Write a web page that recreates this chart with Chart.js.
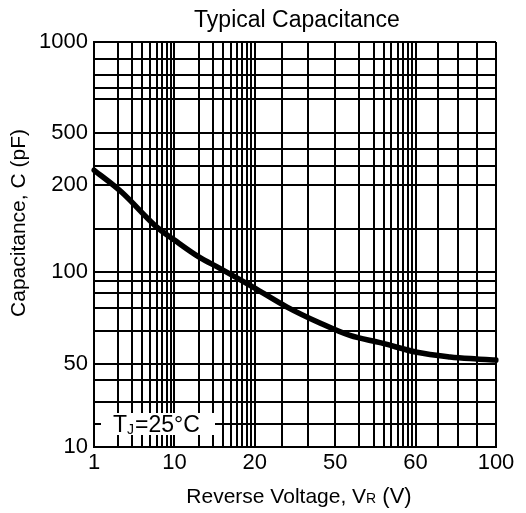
<!DOCTYPE html>
<html>
<head>
<meta charset="utf-8">
<script src="https://cdn.jsdelivr.net/npm/chart.js@4/dist/chart.umd.min.js"></script>
<style>
  html, body { margin: 0; padding: 0; background: #fff; }
  #wrap { width: 526px; height: 513px; }
</style>
</head>
<body>
<div id="wrap"><canvas id="c" width="526" height="513"></canvas></div>
<script>
// ---------- texts ----------
const chartTitle = 'Typical Capacitance';
const xTitleParts = ['Reverse Voltage, V', 'R', ' (V)'];
const yTitle = 'Capacitance, C (pF)';
const noteParts = ['T', 'J', '=25°C'];

// ---------- tick labels / values ----------
const xTickValues = [1, 10, 20, 50, 60, 100];
const xTickLabels = ['1', '10', '20', '50', '60', '100'];
const yTickValues = [10, 50, 100, 200, 500, 1000];
const yTickLabels = ['10', '50', '100', '200', '500', '1000'];

// ---------- series ----------
const voltage     = [1,   2.2, 5.7, 10,  12.3, 14.8, 19.7, 28.9, 42,   51.7, 55.5, 60.5, 74.7, 88.6, 100];
const capacitance = [260, 189, 145, 129, 113,  103,  89.3, 76.8, 68.1, 62.0, 58.6, 54.6, 52.7, 51.9, 51.5];

// ---------- axis geometry (fractions of the axis length) ----------
const xTickPos = [0, 0.2, 0.4, 0.6, 0.8, 1];
const yTickPos = [0, 0.205, 0.432, 0.647, 0.775, 1];
const decade = [2, 3, 4, 5, 6, 7, 8, 9].map(k => Math.log10(k));
const xMinorPos = [].concat(
  decade.map(d => 0.0 + 0.2 * d),
  decade.map(d => 0.2 + 0.2 * d),
  [1 / 3, 2 / 3].map(d => 0.4 + 0.2 * d),
  decade.map(d => 0.6 + 0.2 * d),
  [0.284, 0.53, 0.765].map(d => 0.8 + 0.2 * d)
);
const yMinorPos = [0.057, 0.111, 0.165, 0.286, 0.343, 0.380, 0.410, 0.538, 0.694, 0.736, 0.859, 0.886, 0.919, 0.958];

const axisDefs = {
  x: { values: xTickValues, pos: xTickPos, labels: xTickLabels, minor: xMinorPos },
  y: { values: yTickValues, pos: yTickPos, labels: yTickLabels, minor: yMinorPos }
};

// ---------- custom piecewise-log scale ----------
class PiecewiseScale extends Chart.Scale {
  def() { return axisDefs[this.id]; }
  determineDataLimits() {
    const v = this.def().values;
    this.min = v[0];
    this.max = v[v.length - 1];
  }
  decimalForValue(val) {
    const { values: b, pos: p } = this.def();
    if (val <= b[0]) return p[0];
    for (let i = 0; i < b.length - 1; i++) {
      if (val <= b[i + 1]) {
        const t = Math.log(val / b[i]) / Math.log(b[i + 1] / b[i]);
        return p[i] + t * (p[i + 1] - p[i]);
      }
    }
    return p[p.length - 1];
  }
  valueForDecimal(d) {
    const { values: b, pos: p } = this.def();
    if (d <= p[0]) return b[0];
    for (let i = 0; i < p.length - 1; i++) {
      if (d <= p[i + 1]) {
        const t = (d - p[i]) / (p[i + 1] - p[i]);
        return b[i] * Math.pow(b[i + 1] / b[i], t);
      }
    }
    return b[b.length - 1];
  }
  buildTicks() {
    const d = this.def();
    const ticks = d.minor.map(p => ({ value: this.valueForDecimal(p), text: '' }));
    d.values.forEach((v, i) => ticks.push({ value: v, text: d.labels[i] }));
    ticks.sort((a, b) => a.value - b.value);
    return ticks;
  }
  generateTickLabels(ticks) { ticks.forEach(t => { t.label = t.text; }); }
  getLabelForValue(v) { return String(v); }
  getPixelForValue(v) { return this.getPixelForDecimal(this.decimalForValue(v)); }
  getValueForPixel(px) { return this.valueForDecimal(this.getDecimalForPixel(px)); }
}
PiecewiseScale.id = 'piecewise';
PiecewiseScale.defaults = {};
Chart.register(PiecewiseScale);

const FONT = '"Liberation Sans", Arial, Helvetica, sans-serif';
Chart.defaults.font.family = FONT;
Chart.defaults.color = '#000';

// ---------- text plugin ----------
const textPlugin = {
  id: 'texts',
  afterDraw(chart) {
    const { ctx, chartArea: a } = chart;
    ctx.save();
    ctx.fillStyle = '#000';
    ctx.textBaseline = 'alphabetic';

    // title
    ctx.font = '23px ' + FONT;
    ctx.textAlign = 'center';
    ctx.fillText(chartTitle, (a.left + a.right) / 2 + 2, 27);

    // x title with "R" smaller
    const fonts = ['21px ' + FONT, '14px ' + FONT, '22px ' + FONT];
    const widths = xTitleParts.map((t, i) => { ctx.font = fonts[i]; return ctx.measureText(t).width; });
    let x = (a.left + a.right) / 2 + 4 - widths.reduce((s, w) => s + w, 0) / 2;
    ctx.textAlign = 'left';
    xTitleParts.forEach((t, i) => { ctx.font = fonts[i]; ctx.fillText(t, x, 503); x += widths[i]; });

    // y title (rotated)
    ctx.save();
    ctx.translate(25, 223);
    ctx.rotate(-Math.PI / 2);
    ctx.font = '21px ' + FONT;
    ctx.textAlign = 'center';
    ctx.fillText(yTitle, 0, 0);
    ctx.restore();

    // T_J = 25 °C note
    ctx.fillStyle = '#fff';
    ctx.fillRect(a.left + 7, a.bottom - 34, 114, 22);
    ctx.fillStyle = '#000';
    let nx = a.left + 19;
    const ny = a.bottom - 15;
    ctx.font = '23px ' + FONT; ctx.fillText(noteParts[0], nx, ny); nx += ctx.measureText(noteParts[0]).width;
    ctx.font = '14px ' + FONT; ctx.fillText(noteParts[1], nx, ny + 2); nx += ctx.measureText(noteParts[1]).width + 1;
    ctx.font = '23px ' + FONT; ctx.fillText(noteParts[2], nx, ny);
    ctx.restore();
  }
};

const axisCommon = {
  type: 'piecewise',
  grid: { color: '#000', lineWidth: 2, drawTicks: false },
  border: { display: true, color: '#000', width: 2 }
};

new Chart(document.getElementById('c'), {
  type: 'line',
  data: {
    datasets: [{
      data: voltage.map((v, i) => ({ x: v, y: capacitance[i] })),
      borderColor: '#000',
      borderWidth: 5.5,
      pointRadius: 0,
      fill: false,
      tension: 0.35,
      borderCapStyle: 'round',
      borderJoinStyle: 'round'
    }]
  },
  options: {
    responsive: false,
    animation: false,
    events: [],
    layout: { padding: { top: 42, right: 30, left: 0, bottom: 0 } },
    plugins: { legend: { display: false }, title: { display: false }, tooltip: { enabled: false } },
    scales: {
      x: Object.assign({}, axisCommon, {
        position: 'bottom',
        ticks: { autoSkip: false, maxRotation: 0, minRotation: 0, padding: 3, color: '#000', font: { size: 22 } },
        afterFit(s) { s.height = 66; }
      }),
      y: Object.assign({}, axisCommon, {
        position: 'left',
        ticks: { autoSkip: false, padding: 6, color: '#000', font: { size: 22 } },
        afterFit(s) { s.width = 94; }
      })
    }
  },
  plugins: [textPlugin]
});
</script>
</body>
</html>
